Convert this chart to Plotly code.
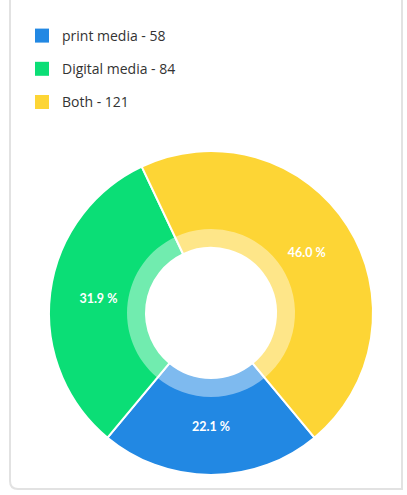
import plotly.graph_objects as go

# Audience split by media type
labels = ["print media", "Digital media", "Both"]
values = [58, 84, 121]
colors = ["#2288E3", "#0BDE76", "#FDD535"]

total = sum(values)
pct_text = [f"{v / total * 100:.1f} %" for v in values]
legend_text = [f"{l} - {v}" for l, v in zip(labels, values)]

W, H = 407, 495
cx, cy = 211, 313          # donut centre (px)
r_out, r_mid, r_in = 162, 84, 65

# start so that the first slice is centred at 6 o'clock
rotation = 180 - values[0] / total * 180


def dom(r):
    return dict(x=[(cx - r) / W, (cx + r) / W],
                y=[1 - (cy + r) / H, 1 - (cy - r) / H])


fig = go.Figure()

# full donut
fig.add_trace(go.Pie(
    labels=labels, values=values, sort=False, direction="clockwise",
    rotation=rotation, hole=r_in / r_out, domain=dom(r_out),
    marker=dict(colors=colors, line=dict(color="white", width=2)),
    customdata=pct_text, texttemplate="%{customdata}",
    textposition="inside", insidetextorientation="horizontal",
    textfont=dict(color="white", size=12.5, family="Lato", weight="bold"),
    showlegend=False, hoverinfo="label+value+percent",
))

# translucent white wash over the inner band
fig.add_trace(go.Pie(
    labels=labels, values=values, sort=False, direction="clockwise",
    rotation=rotation, hole=r_in / r_mid, domain=dom(r_mid),
    marker=dict(colors=["rgba(255,255,255,0.42)"] * len(values),
                line=dict(width=0)),
    textinfo="none", showlegend=False, hoverinfo="skip",
))

# legend entries
for i, (txt, c) in enumerate(zip(legend_text, colors)):
    fig.add_trace(go.Scatter(
        x=[None], y=[None], mode="markers", name=txt, legendgroup=f"g{i}",
        marker=dict(symbol="square", size=14, color=c),
    ))

fig.update_layout(
    width=W, height=H, margin=dict(l=0, r=0, t=0, b=0),
    paper_bgcolor="white", plot_bgcolor="white",
    xaxis=dict(visible=False), yaxis=dict(visible=False),
    font=dict(family="Open Sans", color="#333333"),
    legend=dict(x=22 / W, y=1 - 20 / H, xanchor="left", yanchor="top",
                font=dict(size=14, color="#333333", family="Open Sans"),
                tracegroupgap=12, traceorder="grouped",
                itemclick=False, itemdoubleclick=False),
    shapes=[
        # card frame: left edge and bottom edge with rounded corner
        dict(type="path", xref="paper", yref="paper",
             path=f"M {10 / W},1 L {10 / W},{1 - 481 / H} "
                  f"Q {10 / W},{1 - 489 / H} {18 / W},{1 - 489 / H} "
                  f"L {402 / W},{1 - 489 / H} L {402 / W},1",
             line=dict(color="#E2E2E2", width=2)),
    ],
)

fig.write_html("out.html")
